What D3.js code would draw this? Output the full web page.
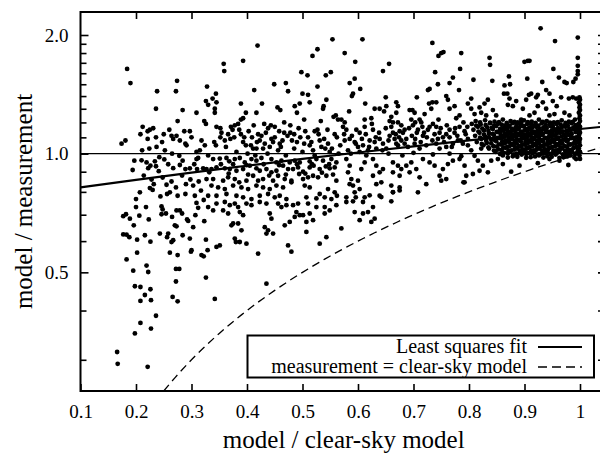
<!DOCTYPE html>
<html>
<head>
<meta charset="utf-8">
<script src="https://cdn.jsdelivr.net/npm/d3@7"></script>
<style>
  body { margin: 0; background: #fff; }
</style>
</head>
<body>
<div class="chart"></div>
<script>
var svgWidth = 600;
var svgHeight = 457;
var serif = "'Liberation Serif', 'Times New Roman', serif";

// plot frame (the right edge sits just off the picture)
var frame = {left: 80.5, right: 605, top: 12, bottom: 391};

// ---- data: [model / clear-sky model, model / measurement] ----
var ptsLeft = [
  [0.184,1.64],[0.19,1.51],[0.238,1.44],[0.236,1.30],[0.274,1.53],[0.272,1.44],[0.284,1.29],[0.309,1.27],
  [0.328,1.48],[0.326,1.36],[0.33,1.33],[0.275,1.21],[0.323,1.21],[0.326,1.19],[0.212,1.17],[0.208,1.12],
  [0.221,1.14],[0.225,1.15],[0.231,1.16],[0.221,1.09],[0.181,1.08],[0.174,1.06],[0.247,1.07],[0.26,1.15],
  [0.264,1.11],[0.267,1.09],[0.273,1.11],[0.279,1.08],[0.287,1.14],[0.289,1.06],[0.291,1.05],[0.297,1.14],
  [0.211,1.02],[0.224,1.03],[0.237,1.04],[0.252,1.02],[0.309,1.01],[0.315,1.02],[0.324,1.05],
  [0.197,0.96],[0.21,0.962],[0.219,0.95],[0.226,0.932],[0.234,0.956],[0.236,0.929],[0.194,0.909],[0.222,0.919],
  [0.241,0.903],[0.251,0.967],[0.267,0.919],[0.278,0.988],[0.279,0.936],[0.289,0.914],[0.297,0.918],[0.309,0.969],
  [0.31,0.914],[0.312,0.975],[0.321,0.918],[0.327,0.914],[0.332,0.897],
  [0.207,0.798],[0.2,0.767],[0.225,0.818],[0.23,0.809],[0.232,0.837],[0.244,0.779],[0.255,0.834],[0.256,0.79],
  [0.261,0.798],[0.272,0.821],[0.275,0.782],[0.289,0.79],[0.29,0.837],[0.303,0.83],[0.306,0.782],[0.317,0.806],
  [0.322,0.763],[0.33,0.782],[0.327,0.862],
  [0.2,0.732],[0.218,0.732],[0.246,0.735],[0.248,0.722],[0.273,0.718],[0.279,0.718],[0.283,0.705],[0.309,0.75],
  [0.312,0.729],[0.33,0.732],[0.177,0.694],[0.182,0.702],[0.189,0.684],[0.196,0.658],[0.206,0.696],[0.223,0.681],
  [0.246,0.702],[0.254,0.705],[0.265,0.691],[0.273,0.654],[0.27,0.658],[0.284,0.621],[0.292,0.681],[0.294,0.675],
  [0.303,0.651],[0.307,0.698],[0.323,0.674],[0.177,0.624],[0.183,0.623],[0.188,0.614],[0.202,0.605],[0.216,0.621],
  [0.226,0.598],[0.243,0.627],[0.256,0.614],[0.258,0.627],[0.264,0.597],[0.267,0.603],[0.297,0.609],[0.3,0.569],
  [0.299,0.564],[0.318,0.553],[0.322,0.549],[0.326,0.605],[0.329,0.569],[0.261,0.561],[0.275,0.553],[0.202,0.561],
  [0.183,0.539],[0.195,0.505],[0.219,0.52],[0.222,0.501],[0.226,0.453],[0.272,0.51],[0.278,0.51],[0.326,0.485],
  [0.272,0.474],[0.198,0.461],[0.208,0.459],[0.216,0.438],[0.208,0.423],[0.227,0.425],[0.266,0.433],[0.275,0.422],
  [0.236,0.388],[0.208,0.372],[0.198,0.35],[0.227,0.36],[0.166,0.314],[0.167,0.293],[0.221,0.288],
  [0.236,1.1],[0.25,1.12],[0.242,0.98],[0.258,0.94],[0.265,1.0],[0.284,0.96],[0.3,1.1],[0.305,0.94],
  [0.318,1.08],[0.33,0.99],[0.214,0.88],[0.228,0.86],[0.248,0.87],[0.264,0.85],[0.283,0.88],[0.298,0.86],
  [0.313,0.85]
];

var ptsMidLeft = [
  [0.554,1.95],[0.419,1.88],[0.358,1.69],[0.359,1.62],[0.393,1.72],[0.527,1.84],[0.518,1.77],[0.498,1.61],
  [0.509,1.58],[0.542,1.58],[0.551,1.61],[0.449,1.50],[0.47,1.51],[0.474,1.44],[0.527,1.48],[0.413,1.45],
  [0.344,1.42],[0.338,1.38],[0.345,1.35],[0.342,1.30],[0.342,1.27],[0.389,1.34],[0.398,1.27],[0.417,1.27],
  [0.427,1.34],[0.455,1.31],[0.46,1.29],[0.486,1.32],[0.49,1.27],[0.495,1.34],[0.5,1.42],[0.51,1.41],
  [0.513,1.35],[0.503,1.22],[0.527,1.15],[0.533,1.21],[0.537,1.30],[0.538,1.32],[0.543,1.37],[0.556,1.24],
  [0.56,1.25],[0.564,1.22],[0.345,1.17],[0.354,1.13],[0.371,1.17],[0.374,1.15],[0.378,1.18],[0.384,1.19],
  [0.389,1.22],[0.393,1.23],[0.434,1.13],[0.438,1.16],[0.443,1.18],[0.444,1.09],[0.447,1.07],[0.458,1.14],
  [0.467,1.13],[0.478,1.18],[0.478,1.13],[0.481,1.08],[0.49,1.07],[0.341,1.07],[0.344,1.05],[0.393,1.07],
  [0.398,1.05],[0.407,1.05],[0.411,1.03],[0.417,1.03],[0.423,1.08],[0.429,1.03],[0.441,1.04],[0.461,1.04],
  [0.51,1.10],[0.513,1.05],[0.519,1.02],[0.531,1.08],[0.534,1.04],[0.541,1.03],[0.546,1.06],[0.549,1.01],
  [0.339,0.969],[0.351,0.972],[0.363,0.975],[0.368,0.956],[0.378,0.969],[0.387,0.975],[0.396,0.95],[0.408,0.969],
  [0.417,0.96],[0.426,0.975],[0.444,0.969],[0.453,0.95],[0.462,0.96],[0.477,0.95],[0.486,0.96],[0.495,0.95],
  [0.513,0.956],[0.525,0.969],[0.537,0.96],[0.552,0.969],[0.561,0.95],
  [0.336,0.914],[0.345,0.923],[0.36,0.918],[0.369,0.914],[0.381,0.905],[0.393,0.914],[0.405,0.932],[0.417,0.918],
  [0.423,0.905],[0.435,0.914],[0.444,0.897],[0.453,0.905],[0.465,0.932],[0.474,0.914],[0.483,0.914],[0.492,0.923],
  [0.501,0.9],[0.513,0.923],[0.52,0.932],[0.531,0.914],[0.542,0.928],[0.549,0.918],[0.558,0.923],
  [0.339,0.862],[0.357,0.854],[0.366,0.871],[0.378,0.862],[0.386,0.846],[0.399,0.854],[0.411,0.879],[0.42,0.854],
  [0.429,0.862],[0.447,0.854],[0.456,0.879],[0.468,0.862],[0.48,0.854],[0.494,0.888],[0.501,0.862],[0.51,0.871],
  [0.519,0.879],[0.528,0.871],[0.543,0.879],[0.561,0.854],
  [0.336,0.83],[0.348,0.821],[0.36,0.813],[0.375,0.83],[0.39,0.821],[0.402,0.813],[0.417,0.83],[0.429,0.821],
  [0.441,0.813],[0.453,0.83],[0.465,0.821],[0.48,0.846],[0.504,0.83],[0.513,0.821],[0.531,0.79],[0.546,0.813],
  [0.558,0.798],[0.345,0.782],[0.363,0.79],[0.381,0.782],[0.393,0.775],[0.408,0.767],[0.423,0.782],[0.438,0.79],
  [0.45,0.775],[0.459,0.782],[0.471,0.767],[0.507,0.775],[0.525,0.77],[0.54,0.775],[0.552,0.767],[0.562,0.782],
  [0.345,0.747],[0.36,0.754],[0.369,0.74],[0.378,0.747],[0.384,0.732],[0.387,0.711],[0.393,0.698],[0.399,0.747],
  [0.408,0.74],[0.423,0.754],[0.435,0.747],[0.441,0.705],[0.444,0.684],[0.456,0.747],[0.462,0.732],[0.471,0.74],
  [0.483,0.74],[0.489,0.711],[0.492,0.747],[0.501,0.698],[0.51,0.747],[0.513,0.705],[0.525,0.732],[0.54,0.732],
  [0.549,0.718],[0.561,0.74],[0.339,0.718],[0.357,0.718],[0.366,0.705],[0.372,0.658],[0.375,0.665],[0.384,0.665],
  [0.39,0.639],[0.378,0.609],[0.38,0.597],[0.387,0.597],[0.399,0.591],[0.345,0.58],[0.351,0.585],[0.432,0.651],
  [0.438,0.639],[0.435,0.627],[0.447,0.627],[0.468,0.658],[0.477,0.671],[0.486,0.691],[0.495,0.698],[0.507,0.671],
  [0.507,0.633],[0.519,0.678],[0.531,0.591],[0.543,0.614],[0.54,0.705],[0.474,0.585],[0.48,0.564],[0.42,0.558],
  [0.435,0.468],[0.342,0.428],
  [0.352,1.1],[0.362,1.04],[0.37,1.09],[0.381,1.01],[0.389,1.12],[0.401,1.0],[0.409,1.1],[0.415,0.99],
  [0.42,1.12],[0.432,1.06],[0.437,1.0],[0.45,1.1],[0.456,1.02],[0.464,1.08],[0.47,0.99],[0.473,1.11],
  [0.485,1.03],[0.496,1.1],[0.5,1.01],[0.505,1.14],[0.516,1.07],[0.522,0.99],[0.529,1.12],[0.539,1.09],
  [0.545,1.15],[0.553,1.03],[0.558,1.12],[0.565,1.0],
  [0.353,0.94],[0.375,0.94],[0.399,0.935],[0.43,0.94],[0.458,0.935],[0.49,0.94],[0.517,0.94],[0.548,0.94],
  [0.367,0.89],[0.402,0.885],[0.44,0.88],[0.47,0.885],[0.505,0.89],[0.535,0.895],[0.555,0.885],
  [0.352,1.16],[0.36,1.08],[0.366,1.12],[0.377,1.1],[0.386,1.15],[0.395,1.1],[0.403,1.14],[0.412,1.18],
  [0.418,1.07],[0.426,1.11],[0.431,1.19],[0.45,1.17],[0.459,1.06],[0.467,1.2],[0.485,1.12],[0.493,1.16],
  [0.503,1.06],[0.522,1.14]
];

var ptsMidRight = [
  [0.608,1.95],[0.576,1.80],[0.595,1.71],[0.645,1.62],[0.656,1.69],[0.734,1.91],[0.745,1.77],[0.75,1.80],
  [0.754,1.81],[0.786,1.80],[0.739,1.61],[0.784,1.64],[0.585,1.51],[0.594,1.55],[0.591,1.42],[0.589,1.40],
  [0.604,1.46],[0.726,1.45],[0.729,1.46],[0.744,1.50],[0.765,1.51],[0.771,1.56],[0.782,1.45],[0.706,1.39],
  [0.65,1.39],[0.613,1.34],[0.669,1.35],[0.672,1.32],[0.669,1.27],[0.651,1.32],[0.639,1.30],[0.63,1.30],
  [0.647,1.28],[0.693,1.29],[0.698,1.29],[0.702,1.27],[0.728,1.34],[0.734,1.35],[0.741,1.35],[0.732,1.30],
  [0.759,1.40],[0.762,1.37],[0.765,1.30],[0.774,1.32],[0.783,1.25],[0.798,1.34],[0.584,1.28],[0.57,1.22],
  [0.576,1.20],[0.573,1.17],[0.579,1.15],[0.612,1.22],[0.624,1.23],[0.597,1.15],[0.612,1.17],
  [0.657,1.21],[0.663,1.20],[0.672,1.20],[0.678,1.18],[0.684,1.15],[0.675,1.14],[0.663,1.13],[0.657,1.11],
  [0.666,1.09],[0.678,1.08],[0.672,1.05],[0.684,1.06],[0.669,1.06],
  [0.696,1.22],[0.699,1.18],[0.711,1.22],[0.714,1.20],[0.716,1.17],[0.706,1.13],[0.717,1.11],[0.726,1.15],
  [0.735,1.19],[0.741,1.17],[0.747,1.13],[0.753,1.10],[0.759,1.12],[0.765,1.15],[0.774,1.13],[0.783,1.17],
  [0.792,1.14],[0.798,1.09],[0.78,1.08],[0.771,1.06],[0.789,1.06],[0.798,1.05],
  [0.576,1.08],[0.585,1.09],[0.594,1.07],[0.6,1.04],[0.609,1.05],[0.621,1.08],[0.63,1.07],[0.639,1.09],
  [0.645,1.06],[0.603,1.01],[0.618,1.02],[0.633,1.03],[0.651,1.03],[0.69,1.04],[0.702,1.06],[0.711,1.03],
  [0.723,1.05],[0.741,1.06],[0.747,1.03],[0.759,1.04],
  [0.579,0.969],[0.585,0.932],[0.582,0.897],[0.588,0.862],[0.591,0.83],[0.594,0.798],[0.585,0.837],[0.6,0.854],
  [0.603,0.813],[0.596,0.775],[0.579,0.775],[0.606,0.914],[0.612,0.95],[0.627,0.969],[0.633,0.932],[0.639,0.897],
  [0.627,0.879],[0.642,0.846],[0.645,0.914],[0.663,0.95],[0.672,0.932],[0.678,0.914],[0.663,0.897],[0.675,0.879],
  [0.687,0.932],[0.696,0.95],[0.705,0.914],[0.711,0.871],[0.693,0.897],[0.717,0.969],[0.729,0.95],[0.738,0.932],
  [0.747,0.879],[0.753,0.914],[0.762,0.941],[0.771,0.96],[0.783,0.969],[0.792,0.932],[0.795,0.879],[0.759,0.862],
  [0.75,0.854],[0.723,0.837],[0.708,0.798],[0.66,0.83],[0.663,0.798],[0.675,0.821],[0.639,0.782],[0.633,0.837],
  [0.612,0.775],[0.792,0.846],[0.621,0.784],[0.642,0.776],[0.663,0.799],[0.675,0.807],
  [0.579,0.754],[0.591,0.757],[0.609,0.754],[0.627,0.732],[0.594,0.711],[0.609,0.705],[0.618,0.711],[0.63,0.684],
  [0.603,0.678],[0.624,0.671],[0.57,0.646],[0.66,0.757],
  [0.562,1.1],[0.568,1.05],[0.575,1.12],[0.582,1.02],[0.589,1.11],[0.596,1.06],[0.603,1.13],[0.607,1.09],
  [0.614,1.12],[0.62,1.04],[0.627,1.15],[0.632,1.1],[0.638,1.13],[0.644,1.02],[0.65,1.16],[0.655,1.08],
  [0.66,1.17],[0.668,1.12],[0.674,1.1],[0.681,1.13],[0.687,1.09],[0.692,1.16],[0.697,1.11],[0.703,1.09],
  [0.708,1.15],[0.713,1.07],[0.719,1.13],[0.724,1.1],[0.729,1.17],[0.734,1.08],[0.738,1.12],[0.744,1.09],
  [0.749,1.16],[0.755,1.07],[0.76,1.18],[0.765,1.1],[0.769,1.04],[0.775,1.16],[0.779,1.11],[0.785,1.08],
  [0.79,1.2],[0.794,1.12],[0.797,1.17],[0.587,1.0],[0.615,0.99],[0.655,1.0],[0.68,0.99],[0.7,1.005],
  [0.735,0.995],[0.765,1.0],[0.786,0.985],[0.625,1.19],[0.703,1.2],[0.745,1.22],[0.777,1.23],[0.66,1.24],
  [0.72,1.26]
];

var ptsRight = [
  [0.929,2.08],[0.955,1.93],[0.996,1.97],[0.837,1.75],[0.838,1.68],[0.9,1.71],[0.906,1.72],[0.909,1.72],
  [0.996,1.75],[0.996,1.67],[0.996,1.62],[0.996,1.59],[0.952,1.64],[0.962,1.56],[0.972,1.52],[0.976,1.51],
  [0.988,1.52],[0.992,1.55],[0.808,1.54],[0.842,1.53],[0.872,1.57],[0.874,1.50],[0.864,1.49],[0.863,1.42],
  [0.905,1.55],[0.932,1.52],[0.939,1.45],[0.945,1.42],[0.804,1.38],[0.804,1.30],[0.81,1.26],[0.819,1.31],
  [0.828,1.34],[0.834,1.37],[0.822,1.27],[0.831,1.25],[0.843,1.29],[0.849,1.25],
  [0.869,1.42],[0.873,1.38],[0.87,1.33],[0.879,1.32],[0.885,1.36],[0.897,1.30],[0.903,1.37],[0.908,1.41],
  [0.912,1.42],[0.921,1.39],[0.924,1.41],[0.924,1.32],[0.933,1.35],[0.939,1.30],[0.951,1.36],[0.958,1.32],
  [0.966,1.39],[0.98,1.38],[0.987,1.39],[0.993,1.38],[0.972,1.27],[0.981,1.25],[0.954,1.26],[0.945,1.25],
  [0.918,1.27],[0.909,1.25],[0.894,1.22],
  [0.804,1.02],[0.81,0.988],[0.822,1.03],[0.816,0.96],[0.825,0.932],[0.834,0.897],[0.819,0.905],[0.807,0.888],
  [0.84,0.96],[0.852,0.969],[0.861,0.941],[0.876,0.9],[0.891,0.932],[0.924,0.946],[0.979,0.936],[0.993,0.969],
  [0.963,0.96],[0.945,0.969],[0.79,0.846]
];

var ptsBlob = [
  [0.812,1.21],[0.829,1.215],[0.846,1.205],[0.861,1.22],[0.875,1.21],[0.888,1.2],[0.899,1.215],[0.913,1.205],
  [0.926,1.22],[0.94,1.21],[0.953,1.2],[0.967,1.215],[0.98,1.205],[0.991,1.22],
  [0.805,1.19],[0.821,1.185],[0.838,1.195],[0.852,1.19],[0.866,1.18],[0.879,1.195],[0.893,1.185],[0.905,1.19],
  [0.918,1.18],[0.931,1.195],[0.945,1.185],[0.958,1.19],[0.972,1.18],[0.985,1.195],[0.996,1.185],
  [0.816,1.17],[0.833,1.165],[0.849,1.175],[0.863,1.16],[0.871,1.17],[0.884,1.165],[0.896,1.175],[0.908,1.16],
  [0.921,1.17],[0.934,1.165],[0.947,1.175],[0.96,1.16],[0.974,1.17],[0.988,1.165],
  [0.808,1.15],[0.827,1.145],[0.843,1.155],[0.857,1.14],[0.868,1.15],[0.878,1.145],[0.889,1.155],[0.9,1.145],
  [0.911,1.15],[0.923,1.14],[0.936,1.155],[0.949,1.145],[0.962,1.15],[0.976,1.14],[0.99,1.155],
  [0.819,1.13],[0.836,1.125],[0.852,1.135],[0.864,1.12],[0.874,1.13],[0.885,1.125],[0.895,1.135],[0.905,1.12],
  [0.915,1.13],[0.927,1.125],[0.939,1.135],[0.951,1.12],[0.964,1.13],[0.977,1.125],[0.992,1.135],
  [0.811,1.11],[0.829,1.105],[0.845,1.115],[0.858,1.1],[0.869,1.11],[0.88,1.105],[0.891,1.115],[0.901,1.1],
  [0.911,1.11],[0.921,1.105],[0.932,1.115],[0.943,1.1],[0.955,1.11],[0.967,1.105],[0.98,1.115],[0.993,1.1],
  [0.822,1.09],[0.84,1.085],[0.855,1.095],[0.866,1.08],[0.877,1.09],[0.887,1.085],[0.897,1.095],[0.907,1.08],
  [0.917,1.09],[0.927,1.085],[0.937,1.095],[0.948,1.08],[0.959,1.09],[0.971,1.085],[0.984,1.095],[0.997,1.08],
  [0.814,1.07],[0.832,1.065],[0.849,1.075],[0.861,1.06],[0.872,1.07],[0.883,1.065],[0.893,1.075],[0.903,1.06],
  [0.913,1.07],[0.923,1.065],[0.933,1.075],[0.943,1.06],[0.953,1.07],[0.964,1.065],[0.976,1.075],[0.988,1.06],
  [0.826,1.05],[0.844,1.045],[0.858,1.055],[0.869,1.04],[0.88,1.05],[0.89,1.045],[0.9,1.055],[0.91,1.04],
  [0.92,1.05],[0.93,1.045],[0.94,1.055],[0.95,1.04],[0.961,1.05],[0.972,1.045],[0.983,1.055],[0.994,1.04],
  [0.836,1.03],[0.853,1.025],[0.866,1.035],[0.877,1.02],[0.887,1.03],[0.897,1.025],[0.907,1.035],[0.917,1.02],
  [0.927,1.03],[0.937,1.025],[0.947,1.035],[0.957,1.02],[0.967,1.03],[0.978,1.025],[0.989,1.035],
  [0.848,1.01],[0.863,1.005],[0.875,1.015],[0.886,1.0],[0.897,1.01],[0.908,1.005],[0.919,1.015],[0.93,1.0],
  [0.941,1.01],[0.952,1.005],[0.963,1.015],[0.974,1.0],[0.986,1.01],[0.995,1.005],
  [0.861,0.99],[0.879,0.985],[0.895,0.995],[0.911,0.98],[0.926,0.99],[0.941,0.985],[0.956,0.995],[0.97,0.98],
  [0.983,0.99]
];

var ptsBlob2 = [
  [0.82,1.2],[0.838,1.198],[0.854,1.202],[0.868,1.196],[0.882,1.204],[0.894,1.198],[0.906,1.202],[0.92,1.196],
  [0.933,1.204],[0.946,1.198],[0.96,1.202],[0.974,1.196],[0.987,1.204],
  [0.813,1.178],[0.83,1.182],[0.845,1.176],[0.859,1.184],[0.873,1.178],[0.886,1.182],[0.899,1.176],[0.912,1.184],
  [0.925,1.178],[0.938,1.182],[0.951,1.176],[0.965,1.184],[0.978,1.178],[0.992,1.182],
  [0.824,1.158],[0.841,1.162],[0.856,1.156],[0.867,1.164],[0.877,1.158],[0.89,1.162],[0.902,1.156],[0.914,1.164],
  [0.927,1.158],[0.94,1.162],[0.953,1.156],[0.967,1.164],[0.981,1.158],[0.995,1.162],
  [0.817,1.138],[0.835,1.142],[0.85,1.136],[0.862,1.144],[0.873,1.138],[0.883,1.142],[0.894,1.136],[0.905,1.144],
  [0.917,1.138],[0.93,1.142],[0.943,1.136],[0.956,1.144],[0.969,1.138],[0.983,1.142],[0.997,1.136],
  [0.827,1.118],[0.843,1.122],[0.857,1.116],[0.868,1.124],[0.879,1.118],[0.889,1.122],[0.899,1.116],[0.91,1.124],
  [0.921,1.118],[0.933,1.122],[0.945,1.116],[0.958,1.124],[0.971,1.118],[0.985,1.122],[0.998,1.116],
  [0.82,1.098],[0.836,1.102],[0.851,1.096],[0.863,1.104],[0.874,1.098],[0.885,1.102],[0.895,1.096],[0.905,1.104],
  [0.916,1.098],[0.926,1.102],[0.937,1.096],[0.949,1.104],[0.961,1.098],[0.974,1.102],[0.987,1.096],
  [0.831,1.078],[0.847,1.082],[0.86,1.076],[0.871,1.084],[0.882,1.078],[0.892,1.082],[0.902,1.076],[0.912,1.084],
  [0.922,1.078],[0.932,1.082],[0.942,1.076],[0.953,1.084],[0.965,1.078],[0.978,1.082],[0.991,1.076],
  [0.823,1.058],[0.84,1.062],[0.854,1.056],[0.865,1.064],[0.876,1.058],[0.886,1.062],[0.896,1.056],[0.906,1.064],
  [0.916,1.058],[0.926,1.062],[0.936,1.056],[0.946,1.064],[0.957,1.058],[0.968,1.062],[0.98,1.056],[0.993,1.064],
  [0.835,1.038],[0.85,1.042],[0.862,1.036],[0.873,1.044],[0.884,1.038],[0.894,1.042],[0.904,1.036],[0.914,1.044],
  [0.924,1.038],[0.934,1.042],[0.944,1.036],[0.955,1.044],[0.966,1.038],[0.977,1.042],[0.989,1.036],
  [0.845,1.018],[0.859,1.022],[0.871,1.016],[0.882,1.024],[0.892,1.018],[0.902,1.022],[0.912,1.016],[0.922,1.024],
  [0.932,1.018],[0.942,1.022],[0.952,1.016],[0.962,1.024],[0.973,1.018],[0.984,1.022],[0.996,1.016],
  [0.856,0.998],[0.87,1.002],[0.881,0.996],[0.892,1.004],[0.903,0.998],[0.914,1.002],[0.925,0.996],[0.936,1.004],
  [0.947,0.998],[0.958,1.002],[0.969,0.996],[0.98,1.004],[0.991,0.998],
  [0.87,0.978],[0.887,0.982],[0.903,0.976],[0.919,0.984],[0.934,0.978],[0.949,0.982],[0.963,0.976],[0.977,0.984],
  [0.99,0.978]
];

// clear-sky ratio of one: the vertical streak at the right
var ptsEdge = [
  [1.0,0.97],[0.999,0.99],[1.0,1.01],[0.998,1.03],[1.0,1.05],[0.999,1.07],[1.0,1.09],[0.998,1.11],
  [1.0,1.13],[0.999,1.15],[1.0,1.17],[0.998,1.19],[1.0,1.21],[0.999,1.23],[1.0,1.25],[0.998,1.27],
  [1.0,1.29],[0.999,1.31],[1.0,1.33],[0.998,1.35],[1.0,1.37],[0.999,1.39]
];

// least squares fit
var fitX = [0.1, 0.2, 0.3, 0.4, 0.5, 0.6, 0.7, 0.8, 0.9, 1.0, 1.045];
var fitY = [0.821, 0.858, 0.895, 0.932, 0.970, 1.007, 1.044, 1.081, 1.118, 1.155, 1.172];

var xTicks = [0.1, 0.2, 0.3, 0.4, 0.5, 0.6, 0.7, 0.8, 0.9, 1.0];
var xTickLabels = ["0.1", "0.2", "0.3", "0.4", "0.5", "0.6", "0.7", "0.8", "0.9", "1"];
var yMajor = [0.5, 1.0, 2.0];
var yMajorLabels = ["0.5", "1.0", "2.0"];
var yMinor = [0.3, 0.4, 0.6, 0.7, 0.8, 0.9, 1.1, 1.2, 1.3, 1.4, 1.5, 1.6, 1.7, 1.8, 1.9];

var allPts = ptsLeft.concat(ptsMidLeft, ptsMidRight, ptsRight, ptsBlob, ptsBlob2, ptsEdge);

var svg = d3.select(".chart")
  .append("svg")
  .attr("width", svgWidth)
  .attr("height", svgHeight);

var x = d3.scaleLinear().domain([0.1, 1.0]).range([frame.left, 580]);
var y = d3.scaleLog().domain([0.25, 2.0]).range([frame.bottom, 35]);

var xMax = x.invert(frame.right);

svg.append("defs").append("clipPath")
  .attr("id", "plotClip")
  .append("rect")
  .attr("x", frame.left)
  .attr("y", frame.top)
  .attr("width", frame.right - frame.left)
  .attr("height", frame.bottom - frame.top);

var plot = svg.append("g").attr("clip-path", "url(#plotClip)");

// measurement = 1 reference
plot.append("line")
  .attr("x1", frame.left).attr("x2", frame.right)
  .attr("y1", y(1)).attr("y2", y(1))
  .attr("stroke", "#000")
  .attr("stroke-width", 1.2);

// measurement = clear-sky model  (model/measurement equals model/clear-sky)
var identX = d3.range(0.25, xMax + 0.01, 0.01);
plot.append("path")
  .datum(identX)
  .attr("fill", "none")
  .attr("stroke", "#000")
  .attr("stroke-width", 1.3)
  .attr("stroke-dasharray", "8,5")
  .attr("d", d3.line().x(d => x(d)).y(d => y(d)));

plot.selectAll("circle")
  .data(allPts)
  .enter()
  .append("circle")
  .attr("cx", d => x(d[0]))
  .attr("cy", d => y(d[1]))
  .attr("r", 2.4)
  .attr("fill", "#000");

var fitData = fitX.map((d, i) => [d, fitY[i]]);
plot.append("path")
  .datum(fitData)
  .attr("fill", "none")
  .attr("stroke", "#000")
  .attr("stroke-width", 2.2)
  .attr("d", d3.line().curve(d3.curveMonotoneX).x(d => x(d[0])).y(d => y(d[1])));

// axes, ticks pointing inward
function styleAxis(g, size) {
  g.select(".domain").remove();
  g.selectAll("line").attr("stroke", "#000").attr("stroke-width", 1.6);
  g.attr("font-family", null).attr("font-size", size);
  g.selectAll("text").attr("fill", "#000").style("font-family", serif);
}

svg.append("g")
  .attr("transform", `translate(0, ${frame.bottom})`)
  .call(d3.axisBottom(x).tickValues(xTicks)
    .tickFormat(d => xTickLabels[xTicks.indexOf(d)])
    .tickSize(-7).tickPadding(14))
  .call(g => styleAxis(g, 19));

svg.append("g")
  .attr("transform", `translate(0, ${frame.top})`)
  .call(d3.axisTop(x).tickValues(xTicks.slice(1)).tickFormat("").tickSize(-7))
  .call(g => styleAxis(g, 19));

svg.append("g")
  .attr("transform", `translate(${frame.left}, 0)`)
  .call(d3.axisLeft(y).tickValues(yMajor)
    .tickFormat(d => yMajorLabels[yMajor.indexOf(d)])
    .tickSize(-8).tickPadding(12))
  .call(g => styleAxis(g, 19));

svg.append("g")
  .attr("transform", `translate(${frame.left}, 0)`)
  .call(d3.axisLeft(y).tickValues(yMinor).tickFormat("").tickSize(-6))
  .call(g => styleAxis(g, 19));

svg.append("g")
  .attr("transform", `translate(${frame.right}, 0)`)
  .call(d3.axisRight(y).tickValues(yMinor.concat(yMajor)).tickFormat("").tickSize(-7))
  .call(g => styleAxis(g, 19));

svg.append("rect")
  .attr("x", frame.left)
  .attr("y", frame.top)
  .attr("width", frame.right - frame.left)
  .attr("height", frame.bottom - frame.top)
  .attr("fill", "none")
  .attr("stroke", "#000")
  .attr("stroke-width", 2);

// legend
var legend = svg.append("g");
legend.append("rect")
  .attr("x", 247.5).attr("y", 335.5)
  .attr("width", 346.5).attr("height", 42)
  .attr("fill", "#fff")
  .attr("stroke", "#000")
  .attr("stroke-width", 2);

legend.append("text")
  .attr("x", 527).attr("y", 352.5)
  .attr("text-anchor", "end")
  .attr("font-size", 20)
  .style("font-family", serif)
  .text("Least squares fit");
legend.append("line")
  .attr("x1", 538).attr("x2", 582)
  .attr("y1", 347).attr("y2", 347)
  .attr("stroke", "#000").attr("stroke-width", 2.2);

legend.append("text")
  .attr("x", 527).attr("y", 372.5)
  .attr("text-anchor", "end")
  .attr("font-size", 20)
  .style("font-family", serif)
  .text("measurement = clear-sky model");
legend.append("line")
  .attr("x1", 538).attr("x2", 582)
  .attr("y1", 367).attr("y2", 367)
  .attr("stroke", "#000").attr("stroke-width", 1.3)
  .attr("stroke-dasharray", "9,5");

// axis titles
svg.append("text")
  .attr("x", (frame.left + frame.right) / 2 + 1)
  .attr("y", 448)
  .attr("text-anchor", "middle")
  .attr("font-size", 25)
  .style("font-family", serif)
  .text("model / clear-sky model");

svg.append("text")
  .attr("transform", "rotate(-90)")
  .attr("x", -(frame.top + frame.bottom) / 2)
  .attr("y", 32)
  .attr("text-anchor", "middle")
  .attr("font-size", 25)
  .style("font-family", serif)
  .text("model / measurement");
</script>
</body>
</html>
